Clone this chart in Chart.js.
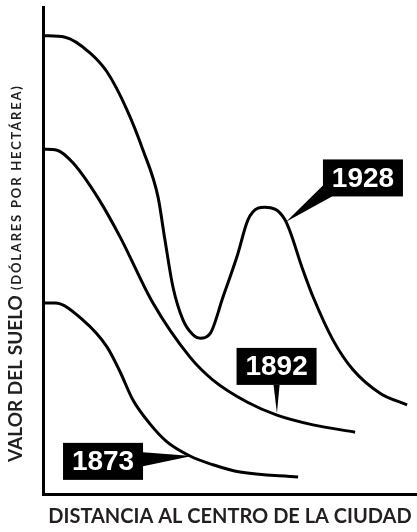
<!DOCTYPE html>
<html>
<head>
<meta charset="utf-8">
<script src="https://cdn.jsdelivr.net/npm/chart.js@4"></script>
<style>
  body { margin: 0; background: #fff; }
</style>
</head>
<body>
<canvas id="myChart" width="417" height="532"></canvas>
<script>
// land value vs distance to city centre, arbitrary units

const distance1928 = [0, 1.18, 2.51, 3.42, 4.49, 5.35, 6.15, 6.52, 6.95, 7.49, 8.02, 8.40, 8.93, 9.63, 10.37, 10.96, 11.50, 11.87, 12.94, 13.90, 14.44, 15.51, 16.58, 18.02, 19.47];
const value1928 = [94.1, 93.8, 90.6, 86.7, 78.9, 70.6, 61.0, 52.2, 42.5, 35.7, 32.7, 32.0, 32.9, 40.5, 48.7, 56.3, 58.7, 58.9, 56.3, 46.0, 40.5, 31.6, 25.5, 20.7, 18.3];

const distance1892 = [0, 0.75, 1.60, 2.94, 4.12, 5.88, 7.86, 9.09, 10.91, 12.51, 14.44, 16.69];
const value1892 = [70.8, 70.6, 68.0, 60.8, 52.8, 39.2, 28.1, 23.4, 18.9, 16.2, 14.2, 12.7];

const distance1873 = [0, 0.64, 2.14, 3.42, 4.12, 4.81, 5.72, 6.63, 7.86, 9.09, 10.54, 13.64];
const value1873 = [39.2, 39.2, 35.7, 30.2, 25.1, 19.3, 14.4, 10.7, 7.8, 6.0, 4.5, 3.5];

const years = ['1928', '1892', '1873'];

// where each year tag sits and which point of its curve it points at
const yearLabels = [
    { text: '1928', boxX: 17.11, boxY: 64.9, tipX: 13.0, tipY: 55.9, side: 'corner' },
    { text: '1892', boxX: 12.49, boxY: 26.2, tipX: 12.51, tipY: 16.6, side: 'bottom' },
    { text: '1873', boxX: 3.21, boxY: 6.7, tipX: 7.96, tipY: 7.8, side: 'right' }
];

const xTitle = 'DISTANCIA AL CENTRO DE LA CIUDAD';
const yTitleMain = 'VALOR DEL SUELO';
const yTitleSub = '(DÓLARES POR HECTÁREA)';

const BOX_W = 80;
const BOX_H = 37;
const AXIS_FONT = 'Lato, "Open Sans", sans-serif';

function toPoints(xs, ys) {
    return xs.map((d, i) => ({ x: d, y: ys[i] }));
}

const lineStyle = {
    borderColor: 'black',
    borderWidth: 3,
    pointRadius: 0,
    fill: false,
    cubicInterpolationMode: 'monotone'
};

const data = {
    datasets: [
        Object.assign({ label: years[0], data: toPoints(distance1928, value1928) }, lineStyle),
        Object.assign({ label: years[1], data: toPoints(distance1892, value1892) }, lineStyle),
        Object.assign({ label: years[2], data: toPoints(distance1873, value1873) }, lineStyle)
    ]
};

// year tags + axis titles
const labelPlugin = {
    id: 'labelPlugin',
    afterDatasetsDraw(chart) {
        const { ctx, chartArea, scales: { x, y } } = chart;
        ctx.save();

        yearLabels.forEach(function (lab) {
            const cx = x.getPixelForValue(lab.boxX);
            const cy = y.getPixelForValue(lab.boxY);
            const tx = x.getPixelForValue(lab.tipX);
            const ty = y.getPixelForValue(lab.tipY);
            const l = cx - BOX_W / 2, r = cx + BOX_W / 2;
            const t = cy - BOX_H / 2, b = cy + BOX_H / 2;

            let base;
            if (lab.side === 'corner') {
                base = [[l, b - 11], [l + 9, b]];
            } else if (lab.side === 'bottom') {
                base = [[cx - 3, b], [cx + 3, b]];
            } else {
                base = [[r, cy - 9], [r, cy + 5]];
            }

            ctx.fillStyle = 'black';
            ctx.beginPath();
            ctx.moveTo(base[0][0], base[0][1]);
            ctx.lineTo(tx, ty);
            ctx.lineTo(base[1][0], base[1][1]);
            ctx.closePath();
            ctx.fill();
            ctx.fillRect(l, t, BOX_W, BOX_H);

            ctx.fillStyle = 'white';
            ctx.font = 'bold 28px "Liberation Sans", Arial, sans-serif';
            ctx.textAlign = 'center';
            ctx.textBaseline = 'middle';
            ctx.fillText(lab.text, cx, cy + 1);
        });

        // x title
        ctx.fillStyle = '#231f20';
        ctx.font = 'bold 20px ' + AXIS_FONT;
        ctx.textAlign = 'center';
        ctx.textBaseline = 'middle';
        ctx.fillText(xTitle, (chartArea.left + chartArea.right) / 2, chartArea.bottom + 23);

        // y title, big part then small part
        ctx.translate(chartArea.left - 27, chartArea.bottom - 32);
        ctx.rotate(-Math.PI / 2);
        ctx.textAlign = 'left';
        ctx.font = 'bold 19px ' + AXIS_FONT;
        ctx.fillText(yTitleMain, 0, 0);
        const w = ctx.measureText(yTitleMain).width;
        ctx.font = 'bold 13px ' + AXIS_FONT;
        ctx.letterSpacing = '1.8px';
        ctx.fillText(yTitleSub, w + 5, 1);

        ctx.restore();
    }
};

const config = {
    type: 'line',
    data: data,
    options: {
        responsive: false,
        animation: false,
        layout: {
            padding: { top: 7, right: 0, left: 0, bottom: 0 }
        },
        plugins: {
            legend: { display: false },
            tooltip: { enabled: false }
        },
        scales: {
            x: {
                type: 'linear',
                min: 0,
                max: 20,
                grid: { display: false },
                ticks: { display: false },
                border: { color: 'black', width: 3 },
                afterFit: (scale) => { scale.height = 38; }
            },
            y: {
                min: 0,
                max: 100,
                grid: { display: false },
                ticks: { display: false },
                border: { color: 'black', width: 3 },
                afterFit: (scale) => { scale.width = 43; }
            }
        }
    },
    plugins: [labelPlugin]
};

var ctx = document.getElementById('myChart').getContext('2d');
var myChart = new Chart(ctx, config);
</script>
</body>
</html>
